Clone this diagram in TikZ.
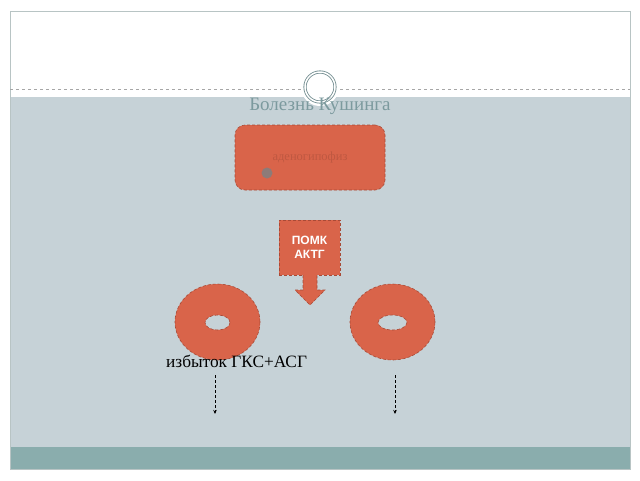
\documentclass[tikz,border=0pt]{standalone}
\usepackage{fontspec}
\setmainfont{Liberation Serif}
\newfontfamily\sansf{Liberation Sans}
\usetikzlibrary{shapes.geometric,arrows.meta}
\definecolor{orng}{HTML}{D9644A}
\definecolor{orngd}{HTML}{A84A36}
\definecolor{bgg}{HTML}{C6D2D7}
\definecolor{band}{HTML}{8AADAD}
\definecolor{ttl}{HTML}{7C9A9E}
\definecolor{frm}{HTML}{B8C4C4}
\tikzset{
  shp/.style={fill=orng, draw=orngd, densely dashed, line width=0.6pt},
  dash arrow/.style={densely dashed, line width=0.8pt, -{Stealth[length=4pt,width=3.5pt]}},
}
\begin{document}
\begin{tikzpicture}[x=1pt,y=-1pt]
\useasboundingbox (0,0) rectangle (640,480);
\fill[white] (0,0) rectangle (640,480);
% frame
\fill[bgg] (10,97) rectangle (630,447);
\fill[band] (10,447) rectangle (630,469);
\draw[frm, line width=0.8pt] (10,11) rectangle (630,469);
\draw[gray!70, dashed, line width=0.4pt] (10,89) -- (630,89);
\fill[white] (320,87) circle (19);
\node[draw=ttl!90!black, double=white, double distance=1.5pt, line width=0.8pt, circle, minimum size=30pt, inner sep=0pt, fill=white] (ring) at (320,87) {};
\node[text=ttl, font=\fontsize{19}{22}\selectfont] (title) at (320,106) {Болезнь Кушинга};
% top box
\node[shp, rounded corners=10pt, minimum width=150pt, minimum height=65pt] (adeno) at (310,157.5) {};
\node[text=orng!88!black, font=\fontsize{12.5}{14}\selectfont] (adtxt) at (310,157) {аденогипофиз};
\fill[gray!85!orng] (267,173) circle (5.5);
% arrow with box
\node[shp, minimum width=61pt, minimum height=55pt, inner sep=0pt, text=white, font=\sansf\bfseries\fontsize{12}{14}\selectfont, align=center] (pomk) at (309.5,247.5) {ПОМК\\АКТГ};
\draw[shp] (303,275) -- (303,290) -- (295,290) -- (310,305) -- (325,290) -- (317,290) -- (317,275);
% donuts
\path[shp, even odd rule] (217.5,322) ellipse [x radius=42.5, y radius=38] (217.5,322.5) ellipse [x radius=12.5, y radius=7.5];
\path[shp, even odd rule] (392.5,322) ellipse [x radius=42.5, y radius=38] (392.5,322.5) ellipse [x radius=14.5, y radius=7.5];
\node[ellipse, minimum width=85pt, minimum height=76pt, inner sep=0pt] (d1) at (217.5,322) {};
\node[ellipse, minimum width=85pt, minimum height=76pt, inner sep=0pt] (d2) at (392.5,322) {};
\node[font=\fontsize{17.3}{20}\selectfont, anchor=base west, inner sep=0pt] (izb) at (166,367) {избыток ГКС+АСГ};
\coordinate (a1s) at (215,375);
\coordinate (a1e) at (215,414);
\coordinate (a2s) at (395,375);
\coordinate (a2e) at (395,414);
\draw[dash arrow] (a1s) -- (a1e);
\draw[dash arrow] (a2s) -- (a2e);
\end{tikzpicture}
\end{document}
